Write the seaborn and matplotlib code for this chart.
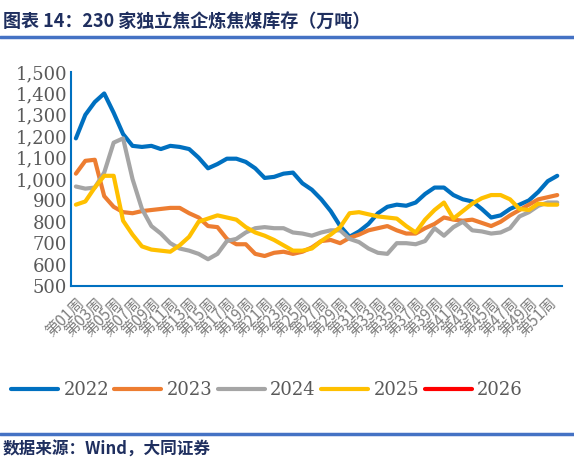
import numpy as np
import pandas as pd
import seaborn as sns
from matplotlib import pyplot as plt
from matplotlib.lines import Line2D

sns.set_theme(style="white")
plt.rcParams['font.family'] = ['Noto Sans CJK SC', 'DejaVu Sans']

weeks = [f"第{i:02d}周" for i in range(1, 53)]

y2022 = [1190, 1300, 1360, 1400, 1310, 1210, 1155, 1150, 1155, 1140, 1155, 1150, 1140, 1100,
         1050, 1070, 1095, 1095, 1080, 1050, 1005, 1010, 1025, 1030, 980, 950, 905, 850, 780,
         730, 755, 790, 840, 870, 880, 875, 890, 930, 960, 960, 925, 905, 895, 860, 820, 830,
         860, 880, 900, 940, 990, 1015]
y2023 = [1025, 1085, 1090, 920, 870, 845, 840, 850, 855, 860, 865, 865, 840, 820, 780, 775,
         720, 695, 695, 650, 640, 655, 660, 650, 660, 680, 710, 715, 700, 725, 740, 760, 770,
         780, 760, 745, 745, 770, 790, 820, 810, 805, 810, 795, 780, 800, 830, 855, 880, 905,
         915, 925]
y2024 = [965, 955, 960, 1030, 1170, 1190, 1000, 860, 780, 745, 700, 675, 665, 650, 625, 650,
         710, 720, 750, 770, 775, 770, 770, 750, 745, 735, 750, 760, 760, 720, 705, 675, 655,
         650, 700, 700, 695, 710, 770, 735, 775, 800, 760, 755, 745, 750, 770, 825, 845, 875,
         890, 890]
y2025 = [880, 895, 960, 1015, 1015, 805, 740, 685, 670, 665, 660, 690, 730, 800, 815, 830,
         820, 810, 775, 750, 735, 715, 690, 665, 665, 675, 710, 740, 775, 840, 845, 835, 825,
         820, 815, 780, 750, 810, 855, 890, 815, 850, 885, 910, 925, 925, 905, 860, 855, 885,
         880, 880]
y2026 = []

series = {"2022": y2022, "2023": y2023, "2024": y2024, "2025": y2025}
colors = {"2022": "#0070C0", "2023": "#ED7D31", "2024": "#A5A5A5", "2025": "#FFC000", "2026": "#FF0000"}

rows = []
for year, vals in series.items():
    for i, v in enumerate(vals):
        rows.append({"x": i, "value": v, "year": year})
df = pd.DataFrame(rows)

fig = plt.figure(figsize=(5.74, 4.68), dpi=100)
ax = fig.add_axes([0.124, 0.389, 0.855, 0.457])
sns.lineplot(data=df, x="x", y="value", hue="year", palette=colors, linewidth=3,
             ax=ax, legend=False)

ax.set_xlim(-0.5, 51.5)
ax.set_ylim(500, 1500)
ax.set_yticks(range(500, 1501, 100))
ax.set_yticklabels([f"{v:,}" for v in range(500, 1501, 100)], color="#595959",
                   fontsize=13, family=["DejaVu Serif"])
ax.set_xticks(range(0, 52, 2))
ax.set_xticklabels(weeks[::2], rotation=45, ha="right", rotation_mode="anchor",
                   color="#7f7f7f", fontsize=11)
ax.set_xticks(np.arange(-0.5, 52, 1), minor=True)
ax.tick_params(axis="x", which="major", length=0, pad=6)
ax.tick_params(axis="x", which="minor", length=6, color="#0070C0", direction="in")
ax.tick_params(axis="y", length=5, color="#0070C0", direction="in", pad=3)
ax.set_xlabel("")
ax.set_ylabel("")
for s in ["top", "right"]:
    ax.spines[s].set_visible(False)
for s in ["left", "bottom"]:
    ax.spines[s].set_color("#0070C0")
    ax.spines[s].set_linewidth(1.5)

handles = [Line2D([], [], color=colors[y], linewidth=3) for y in colors]
fig.legend(handles, list(colors), loc="center", bbox_to_anchor=(0.465, 0.167), ncol=5,
           frameon=False, handlelength=2.6, columnspacing=0.3, handletextpad=0.3,
           prop={"family": "DejaVu Serif", "size": 13}, labelcolor="#595959")

fig.text(0.005, 0.955, "图表 14：230 家独立焦企炼焦煤库存（万吨）", fontsize=13,
         fontweight="bold", color="#1F2F5F", va="center")
fig.add_artist(Line2D([0, 1], [0.921, 0.921], color="#4472C4", linewidth=2.5))
fig.add_artist(Line2D([0, 1], [0.073, 0.073], color="#4472C4", linewidth=2.5))
fig.text(0.005, 0.04, "数据来源：Wind，大同证券", fontsize=12, fontweight="bold",
         color="#1F2F5F", va="center")

fig.savefig("out.png", dpi=100, facecolor="white")
